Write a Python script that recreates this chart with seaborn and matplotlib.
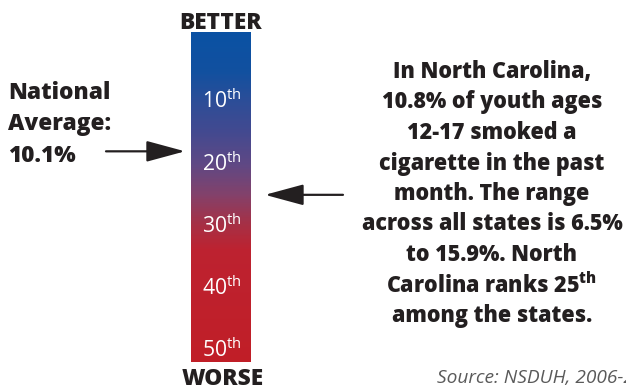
import numpy as np
import pandas as pd
import matplotlib
matplotlib.use("Agg")
import matplotlib.pyplot as plt
from matplotlib.colors import LinearSegmentedColormap
import seaborn as sns

# ---------------- data ----------------
rank_labels = [10, 20, 30, 40, 50]
national_avg_rank = 18
state_rank = 25
scale_top_rank = -1.2
scale_bottom_rank = 51.9
gradient_ranks = [-1.2, 5, 10, 15, 20, 25, 30, 34, 51.9]
gradient_colors = ["#0a51a3", "#11509f", "#2d4d97", "#44498f", "#5f4884",
                   "#83416a", "#a72f44", "#bd2230", "#c01e27"]
national_lines = ["National", "Average:", "10.1%"]
state_lines = ["In North Carolina,",
               "10.8% of youth ages",
               "12-17 smoked a",
               "cigarette in the past",
               "month. The range",
               "across all states is 6.5%",
               "to 15.9%. North",
               "Carolina ranks 25$^{\\mathbf{th}}$",
               "among the states."]
top_label = "BETTER"
bottom_label = "WORSE"
source_text = "Source: NSDUH, 2006-2007"

# ---------------- style ----------------
W, H = 626, 388
sns.set_theme(style="white")
plt.rcParams["font.family"] = ["Open Sans", "DejaVu Sans"]
plt.rcParams["mathtext.fontset"] = "custom"
plt.rcParams["mathtext.rm"] = "Open Sans"
plt.rcParams["mathtext.bf"] = "Open Sans:weight=800"
plt.rcParams["mathtext.it"] = "Open Sans:italic"
DARK = "#231f20"
HEAVY = 800

fig = plt.figure(figsize=(W / 100, H / 100), dpi=100)
fig.patch.set_facecolor("white")


def px(x, y):
    return x / W, 1 - y / H


bar_box = [191 / W, 1 - 362 / H, 60 / W, 330 / H]

# gradient bar via seaborn heatmap
ax = fig.add_axes(bar_box)
grid = np.linspace(scale_top_rank, scale_bottom_rank, 331)
df = pd.DataFrame({"rank": grid})
pos = (np.array(gradient_ranks) - scale_top_rank) / (scale_bottom_rank - scale_top_rank)
cmap = LinearSegmentedColormap.from_list("rank_grad", list(zip(pos, gradient_colors)))
sns.heatmap(df, ax=ax, cmap=cmap, vmin=scale_top_rank, vmax=scale_bottom_rank,
            cbar=False, xticklabels=False, yticklabels=False)
ax.set_axis_off()

# overlay in rank units
ov = fig.add_axes(bar_box)
ov.set_xlim(0, 1)
ov.set_ylim(scale_bottom_rank, scale_top_rank)
ov.set_axis_off()
ov.patch.set_alpha(0)

for r in rank_labels:
    ov.text(0.52, r, f"{r}$^{{\\mathrm{{th}}}}$", color="white", ha="center",
            va="center", fontsize=15.2)

trans = ov.get_yaxis_transform()
arrow_kw = dict(arrowstyle="-|>,head_length=2.4,head_width=0.65", mutation_scale=10,
                lw=1.6, color=DARK, shrinkA=0, shrinkB=0)
ov.annotate("", xy=(-0.1, national_avg_rank), xycoords=trans,
            xytext=(-79, 0), textcoords="offset pixels",
            arrowprops=arrow_kw, annotation_clip=False)
ov.annotate("", xy=(1.233, state_rank), xycoords=trans,
            xytext=(78, 0), textcoords="offset pixels",
            arrowprops=arrow_kw, annotation_clip=False)

# texts
fig.text(*px(221, 29), top_label, ha="center", va="baseline", fontsize=16.3,
         fontweight=HEAVY, color=DARK)
fig.text(*px(223, 385), bottom_label, ha="center", va="baseline", fontsize=16.3,
         fontweight=HEAVY, color=DARK)

for i, line in enumerate(national_lines):
    fig.text(*px(8, 99 + i * 31.5), line, ha="left", va="baseline", fontsize=16.3,
             fontweight=HEAVY, color=DARK)

for i, line in enumerate(state_lines):
    fig.text(*px(492, 78 + i * 30.5), line, ha="center", va="baseline", fontsize=15.5,
             fontweight=HEAVY, color=DARK)

fig.text(*px(437, 383), source_text, ha="left", va="baseline", fontsize=13.8,
         style="italic", color="#5a5a5a")

fig.savefig("out.png", dpi=100)
